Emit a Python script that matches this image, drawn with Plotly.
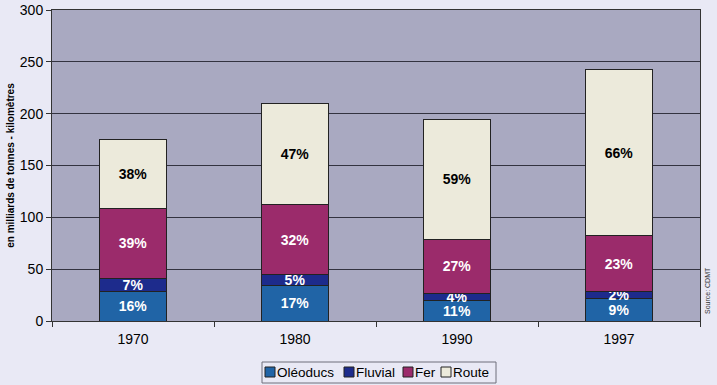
import plotly.graph_objects as go

years = ["1970", "1980", "1990", "1997"]
oleoducs = [28, 34, 20, 22]
fluvial = [13, 11, 7, 6]
fer = [68, 67, 52, 54]
route = [66, 98, 115, 161]

pct_oleoducs = ["16%", "17%", "11%", "9%"]
pct_fluvial = ["7%", "5%", "4%", "2%"]
pct_fer = ["39%", "32%", "27%", "23%"]
pct_route = ["38%", "47%", "59%", "66%"]

series = [
    ("Oléoducs", oleoducs, pct_oleoducs, "#2064a6", "white"),
    ("Fluvial", fluvial, pct_fluvial, "#1d2b8c", "white"),
    ("Fer", fer, pct_fer, "#9b2b6b", "white"),
    ("Route", route, pct_route, "#eceadb", "black"),
]

FONT = "Liberation Sans, Arial, sans-serif"
fig = go.Figure()
for name, vals, txt, col, tcol in series:
    fig.add_trace(go.Bar(
        x=years, y=vals, name=name, text=txt,
        textposition="inside", insidetextanchor="middle", textangle=0,
        textfont=dict(family=FONT, size=14, color=tcol),
        texttemplate="<b>%{text}</b>",
        marker=dict(color=col, line=dict(color="#222222", width=1)),
        hoverinfo="skip", showlegend=False,
    ))

# plot area in pixels: x 52..700, y 10..321
PL, PR, PT, PB = 52, 700, 10, 321
def px(x):
    return (x - PL) / (PR - PL)
def py(y):
    return (PB - y) / (PB - PT)

shapes = [dict(type="rect", xref="paper", yref="paper",
               x0=px(262), x1=px(496), y0=py(383), y1=py(362),
               line=dict(color="#6f6f7a", width=1), fillcolor="#e9e9f5", layer="above")]
legend_sq = [265, 344, 403, 441]
legend_tx = [276, 355, 414, 452]
annotations = []
for (name, vals, txt, col, tcol), sx, tx in zip(series, legend_sq, legend_tx):
    shapes.append(dict(type="rect", xref="paper", yref="paper",
                       x0=px(sx), x1=px(sx + 10), y0=py(377), y1=py(367),
                       line=dict(color="#222222", width=1), fillcolor=col, layer="above"))
    annotations.append(dict(text=name, xref="paper", yref="paper", x=px(tx), y=py(372.5),
                            xanchor="left", yanchor="middle", showarrow=False, borderpad=0,
                            font=dict(family=FONT, size=13.5, color="black")))
annotations.append(dict(
    text="Source: CDMT", xref="paper", yref="paper", x=px(702), y=py(316),
    xanchor="left", yanchor="bottom", textangle=-90, showarrow=False,
    font=dict(family=FONT, size=7, color="#333333"),
))

fig.update_layout(
    barmode="stack",
    bargap=0.59,
    width=717, height=385,
    margin=dict(l=PL, r=717 - PR, t=PT, b=385 - PB, autoexpand=False),
    paper_bgcolor="#e9e9f5",
    plot_bgcolor="#a9a9c1",
    font=dict(family=FONT, size=13, color="black"),
    uniformtext=dict(minsize=14, mode="show"),
    showlegend=False,
    shapes=shapes,
    annotations=annotations,
)
fig.update_yaxes(
    range=[0, 300], dtick=50, showgrid=True, gridcolor="#333340", gridwidth=1,
    ticks="outside", ticklen=5, tickcolor="#333333",
    showline=True, linecolor="#333333", mirror=True, zeroline=False,
    automargin=False, tickfont=dict(size=14),
    title=dict(text="<b>en milliards de tonnes - kilomètres</b>",
               font=dict(size=10), standoff=3),
)
fig.update_xaxes(
    ticks="outside", tickson="boundaries", ticklen=5, tickcolor="#333333",
    showline=True, linecolor="#333333", mirror=True, automargin=False,
    tickfont=dict(size=14), ticklabelstandoff=5,
)

fig.write_html(
    "out.html",
    config={"displayModeBar": False},
    post_script="document.body.style.margin='0';document.body.style.background='#e9e9f5';",
)
